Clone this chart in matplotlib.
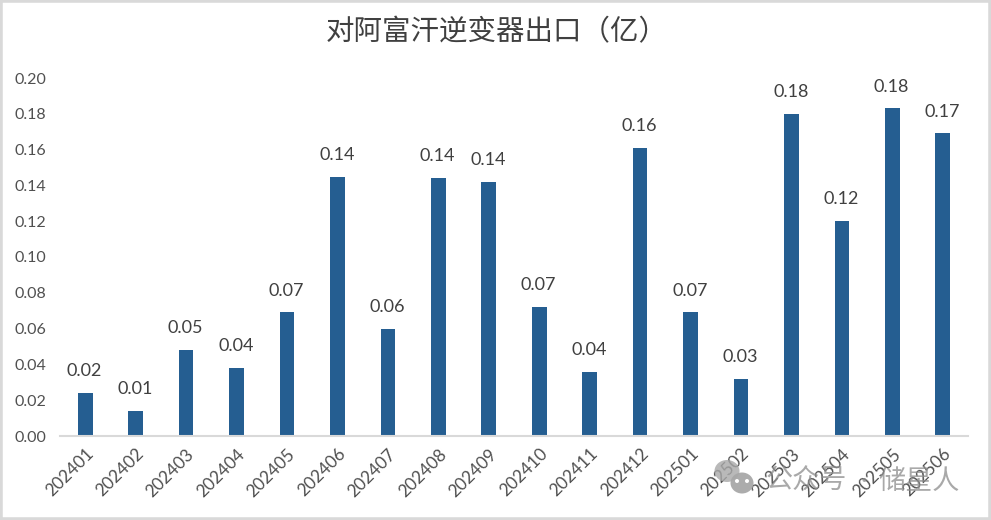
import matplotlib
matplotlib.use("Agg")
import matplotlib.pyplot as plt
from matplotlib.patches import Ellipse, Rectangle

plt.rcParams['font.family'] = ['Lato', 'Noto Sans CJK SC', 'DejaVu Sans']

months = ['202401', '202402', '202403', '202404', '202405', '202406',
          '202407', '202408', '202409', '202410', '202411', '202412',
          '202501', '202502', '202503', '202504', '202505', '202506']
values = [0.024, 0.014, 0.048, 0.038, 0.069, 0.1445,
          0.060, 0.144, 0.142, 0.072, 0.036, 0.161,
          0.069, 0.032, 0.180, 0.120, 0.183, 0.169]
yticks = [0.00, 0.02, 0.04, 0.06, 0.08, 0.10, 0.12, 0.14, 0.16, 0.18, 0.20]

W, H = 991, 520
CJK = ['Noto Sans CJK SC', 'DejaVu Sans']
fig = plt.figure(figsize=(W / 100, H / 100), dpi=100, facecolor='white')
ax = fig.add_axes([60 / W, 1 - 436 / H, 908 / W, 358 / H])

x = list(range(len(months)))
ax.bar(x, values, width=0.29, color='#255E91', zorder=2)
for xi, v in zip(x, values):
    ax.annotate(f'{v:.2f}', (xi, v), xytext=(-0.5, 10), textcoords='offset points',
                ha='center', va='bottom', fontsize=13, color='#404040')

ax.set_xlim(-0.5, len(months) - 0.5)
ax.set_ylim(0, 0.20)
ax.set_yticks(yticks, [f'{t:.2f}' for t in yticks])
ax.set_xticks(x, months, rotation=45, ha='right', rotation_mode='anchor')
ax.tick_params(axis='both', length=0, labelsize=11.5, labelcolor='#505050')
ax.tick_params(axis='x', pad=7, labelsize=12.5)
ax.tick_params(axis='y', pad=10)
for s in ['top', 'right', 'left']:
    ax.spines[s].set_visible(False)
ax.spines['bottom'].set_color('#D9D9D9')
ax.spines['bottom'].set_linewidth(1.5)

fig.text(497 / W, 1 - 32 / H, '对阿富汗逆变器出口（亿）', ha='center', va='center',
         fontsize=20.5, color='#404040', family=CJK)

# watermark
wm = dict(va='center', fontsize=19.5, color='#8c8c8c', alpha=0.75, zorder=5)
fig.text(766 / W, 1 - 481 / H, '公众号', ha='left', family=CJK, **wm)
fig.text(878 / W, 1 - 481 / H, '储星人', ha='left', family=CJK, **wm)
fig.text(864 / W, 1 - 481 / H, '·', ha='center', **wm)
fig.add_artist(Ellipse((727 / W, 1 - 471 / H), 25 / W, 22 / H, transform=fig.transFigure,
                       color='#a8a8a8', alpha=0.8, lw=0))
fig.add_artist(Ellipse((742 / W, 1 - 483 / H), 23 / W, 21 / H, transform=fig.transFigure,
                       color='#a8a8a8', alpha=0.95, lw=0))
for ex in (737, 747):
    fig.add_artist(Ellipse((ex / W, 1 - 481 / H), 4 / W, 4 / H, transform=fig.transFigure,
                           color='white', lw=0))

# light frame round the picture
fig.add_artist(Rectangle((0, 0), 1, 1, transform=fig.transFigure, fill=False,
                         edgecolor='#D9D9D9', linewidth=4))

fig.savefig('out.png', dpi=100)
